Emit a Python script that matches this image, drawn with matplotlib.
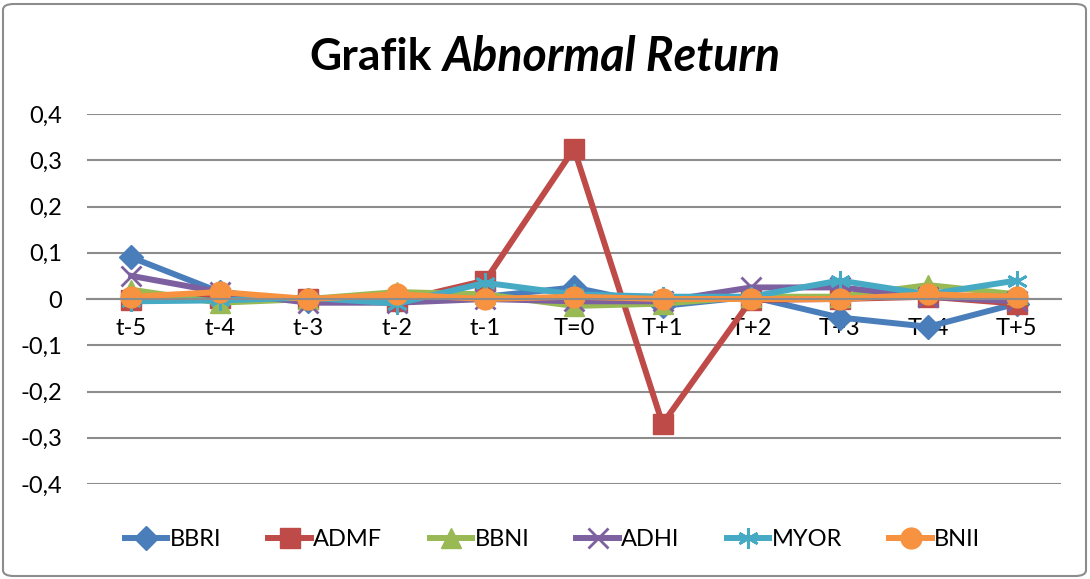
import matplotlib.pyplot as plt
import numpy as np
from matplotlib.patches import FancyBboxPatch

# category labels on the x axis
periods = ['t-5', 't-4', 't-3', 't-2', 't-1', 'T=0', 'T+1', 'T+2', 'T+3', 'T+4', 'T+5']

# abnormal return per stock
bbri = [0.090, 0.015, -0.005, -0.005, 0.005, 0.025, -0.015, 0.005, -0.040, -0.060, -0.010]
admf = [-0.003, 0.003, 0.000, -0.005, 0.040, 0.325, -0.270, -0.002, 0.000, 0.005, -0.010]
bbni = [0.020, -0.008, 0.000, 0.015, 0.010, -0.015, -0.010, 0.005, 0.005, 0.030, 0.010]
adhi = [0.050, 0.015, -0.008, -0.008, 0.000, -0.005, -0.005, 0.025, 0.025, 0.005, -0.005]
myor = [-0.005, -0.003, 0.003, -0.010, 0.035, 0.010, 0.005, 0.005, 0.040, 0.010, 0.040]
bnii = [0.005, 0.015, 0.000, 0.010, 0.000, 0.005, 0.000, 0.000, 0.000, 0.010, 0.005]

y_ticks = [-0.4, -0.3, -0.2, -0.1, 0, 0.1, 0.2, 0.3, 0.4]

series = [
    ('BBRI', bbri, '#4A7EBB', 'D', 12),
    ('ADMF', admf, '#BE4B48', 's', 14),
    ('BBNI', bbni, '#98B954', '^', 14),
    ('ADHI', adhi, '#7D60A0', 'x', 14),
    ('MYOR', myor, '#46AAC5', (6, 2, 0), 15),
    ('BNII', bnii, '#F69240', 'o', 15),
]

plt.rcParams['font.family'] = ['Lato', 'DejaVu Sans']

fig = plt.figure(figsize=(10.9, 5.79), dpi=100)
ax = fig.add_axes([87 / 1090, 1 - 484 / 579, (1061 - 87) / 1090, (484 - 114) / 579])

x = np.arange(len(periods))
for name, vals, color, marker, ms in series:
    if marker in ('x', (6, 2, 0)):
        # line-only markers (cross / asterisk)
        ax.plot(x, vals, color=color, lw=4.3, marker=marker, ms=ms, mew=2,
                label=name, solid_joinstyle='round')
    else:
        ax.plot(x, vals, color=color, lw=4.3, marker=marker, ms=ms,
                mec=color, label=name, solid_joinstyle='round')

ax.set_xlim(-0.5, len(periods) - 0.5)
ax.set_ylim(-0.4, 0.4)
ax.set_yticks(y_ticks)
ax.set_yticklabels([('%g' % v).replace('.', ',') for v in y_ticks], fontsize=17)
ax.yaxis.grid(True, color='#8c8c8c', lw=1.5)
ax.set_axisbelow(True)

ax.spines['bottom'].set_position(('data', 0))
ax.spines['bottom'].set_color('#8c8c8c')
ax.spines['bottom'].set_linewidth(1.5)
for s in ['left', 'right', 'top']:
    ax.spines[s].set_visible(False)
ax.set_xticks(x)
ax.set_xticklabels(periods, fontsize=17)
ax.tick_params(axis='x', length=0, pad=14)
ax.tick_params(axis='y', length=0, pad=18)

fig.text(432 / 1090, 1 - 57 / 579, 'Grafik', ha='right', va='center',
         fontsize=32, fontweight='bold')
fig.text(443 / 1090, 1 - 57 / 579, 'Abnormal Return', ha='left', va='center',
         fontsize=33.5, fontweight='bold', style='italic')

fig.legend(loc='center', bbox_to_anchor=(0.507, 1 - 540 / 579), ncol=6,
           frameon=False, fontsize=17, handlelength=1.8, columnspacing=2.0,
           handletextpad=0.1)

border = FancyBboxPatch((3 / 1090, 3 / 579), 1 - 7 / 1090, 1 - 7 / 579,
                        boxstyle='round,pad=0,rounding_size=0.01',
                        transform=fig.transFigure, fill=False,
                        ec='#8c8c8c', lw=1.5)
fig.patches.append(border)

fig.savefig('out.png', dpi=100)
